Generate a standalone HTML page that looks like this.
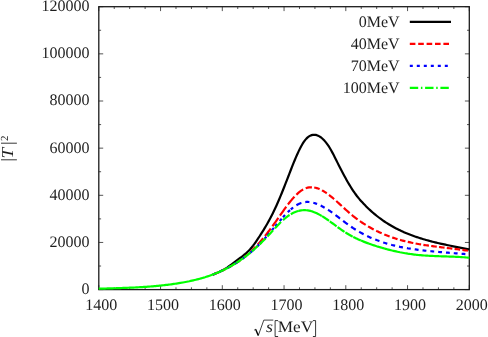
<!DOCTYPE html>
<html><head><meta charset="utf-8"><title>plot</title>
<style>html,body{margin:0;padding:0;background:#fff;}body{width:488px;height:337px;overflow:hidden;font-family:"Liberation Serif",serif;}</style>
</head><body>
<svg width="488" height="337" viewBox="0 0 488 337" style="display:block">
<rect width="488" height="337" fill="#fff"/>
<g fill="none" stroke="#1c1c1c">
<rect x="98.8" y="6.7" width="370.50" height="282.90" stroke-width="1.3"/>
<path d="M98.80,289.6 v-4.4 M98.80,6.7 v4.4 M114.24,289.6 v-2.3 M114.24,6.7 v2.3 M129.68,289.6 v-2.3 M129.68,6.7 v2.3 M145.11,289.6 v-2.3 M145.11,6.7 v2.3 M160.55,289.6 v-4.4 M160.55,6.7 v4.4 M175.99,289.6 v-2.3 M175.99,6.7 v2.3 M191.43,289.6 v-2.3 M191.43,6.7 v2.3 M206.86,289.6 v-2.3 M206.86,6.7 v2.3 M222.30,289.6 v-4.4 M222.30,6.7 v4.4 M237.74,289.6 v-2.3 M237.74,6.7 v2.3 M253.18,289.6 v-2.3 M253.18,6.7 v2.3 M268.61,289.6 v-2.3 M268.61,6.7 v2.3 M284.05,289.6 v-4.4 M284.05,6.7 v4.4 M299.49,289.6 v-2.3 M299.49,6.7 v2.3 M314.93,289.6 v-2.3 M314.93,6.7 v2.3 M330.36,289.6 v-2.3 M330.36,6.7 v2.3 M345.80,289.6 v-4.4 M345.80,6.7 v4.4 M361.24,289.6 v-2.3 M361.24,6.7 v2.3 M376.68,289.6 v-2.3 M376.68,6.7 v2.3 M392.11,289.6 v-2.3 M392.11,6.7 v2.3 M407.55,289.6 v-4.4 M407.55,6.7 v4.4 M422.99,289.6 v-2.3 M422.99,6.7 v2.3 M438.43,289.6 v-2.3 M438.43,6.7 v2.3 M453.86,289.6 v-2.3 M453.86,6.7 v2.3 M469.30,289.6 v-4.4 M469.30,6.7 v4.4 M98.8,289.60 h4.4 M469.3,289.60 h-4.4 M98.8,266.03 h2.3 M469.3,266.03 h-2.3 M98.8,242.45 h4.4 M469.3,242.45 h-4.4 M98.8,218.88 h2.3 M469.3,218.88 h-2.3 M98.8,195.30 h4.4 M469.3,195.30 h-4.4 M98.8,171.73 h2.3 M469.3,171.73 h-2.3 M98.8,148.15 h4.4 M469.3,148.15 h-4.4 M98.8,124.58 h2.3 M469.3,124.58 h-2.3 M98.8,101.00 h4.4 M469.3,101.00 h-4.4 M98.8,77.42 h2.3 M469.3,77.42 h-2.3 M98.8,53.85 h4.4 M469.3,53.85 h-4.4 M98.8,30.27 h2.3 M469.3,30.27 h-2.3 M98.8,6.70 h4.4 M469.3,6.70 h-4.4" stroke-width="0.75"/>
</g>
<g fill="none" stroke-width="2.2" stroke-linejoin="round">
<path d="M212.8,274.68 214.1,274.17 215.4,273.64 216.7,273.08 218.0,272.51 219.3,271.90 220.6,271.27 221.9,270.60 223.2,269.90 224.5,269.16 225.8,268.38 227.1,267.56 228.4,266.68 229.7,265.77 231.0,264.83 232.3,263.86 233.6,262.88 234.9,261.89 236.2,260.91 237.5,259.94 238.8,258.97 240.1,258.00 241.4,257.02 242.7,256.00 244.0,254.96 245.3,253.86 246.6,252.70 247.9,251.47 249.2,250.15 250.5,248.75 251.8,247.23 253.1,245.60 254.4,243.87 255.7,242.05 257.0,240.16 258.3,238.22 259.6,236.24 260.9,234.22 262.2,232.16 263.5,230.05 264.8,227.90 266.1,225.70 267.4,223.46 268.7,221.16 270.0,218.79 271.3,216.33 272.6,213.76 273.9,211.08 275.2,208.31 276.5,205.44 277.8,202.49 279.1,199.46 280.4,196.36 281.7,193.21 283.0,189.99 284.3,186.73 285.6,183.43 286.9,180.10 288.2,176.74 289.5,173.38 290.8,170.02 292.1,166.70 293.4,163.44 294.7,160.25 296.0,157.16 297.3,154.19 298.6,151.36 299.9,148.70 301.2,146.22 302.5,143.95 303.8,141.91 305.1,140.12 306.4,138.60 307.7,137.36 309.0,136.39 310.3,135.65 311.6,135.14 312.9,134.84 314.2,134.75 315.5,134.86 316.8,135.17 318.1,135.68 319.4,136.36 320.7,137.23 322.0,138.26 323.3,139.47 324.6,140.84 325.9,142.38 327.2,144.08 328.5,145.96 329.8,148.01 331.1,150.23 332.4,152.61 333.7,155.10 335.0,157.68 336.3,160.28 337.6,162.87 338.9,165.44 340.2,167.99 341.5,170.51 342.8,173.00 344.1,175.44 345.4,177.84 346.7,180.18 348.0,182.45 349.3,184.66 350.6,186.80 351.9,188.86 353.2,190.83 354.5,192.71 355.8,194.50 357.1,196.21 358.4,197.84 359.7,199.41 361.0,200.91 362.3,202.35 363.6,203.74 364.9,205.09 366.2,206.41 367.5,207.68 368.8,208.93 370.1,210.14 371.4,211.32 372.7,212.47 374.0,213.58 375.3,214.67 376.6,215.73 377.9,216.75 379.2,217.75 380.5,218.72 381.8,219.66 383.1,220.58 384.4,221.47 385.7,222.34 387.0,223.18 388.3,223.99 389.6,224.79 390.9,225.56 392.2,226.30 393.5,227.03 394.8,227.74 396.1,228.42 397.4,229.09 398.7,229.73 400.0,230.36 401.3,230.97 402.6,231.56 403.9,232.14 405.2,232.70 406.5,233.24 407.8,233.77 409.1,234.29 410.4,234.79 411.7,235.28 413.0,235.76 414.3,236.22 415.6,236.68 416.9,237.12 418.2,237.55 419.5,237.98 420.8,238.39 422.1,238.79 423.4,239.18 424.7,239.56 426.0,239.94 427.3,240.30 428.6,240.66 429.9,241.01 431.2,241.35 432.5,241.69 433.8,242.01 435.1,242.33 436.4,242.65 437.7,242.96 439.0,243.26 440.3,243.56 441.6,243.85 442.9,244.14 444.2,244.42 445.5,244.70 446.8,244.97 448.1,245.25 449.4,245.52 450.7,245.78 452.0,246.05 453.3,246.31 454.6,246.57 455.9,246.83 457.2,247.08 458.5,247.34 459.8,247.60 461.1,247.85 462.4,248.11 463.7,248.37 465.0,248.62 466.3,248.88 467.6,249.14 468.9,249.41 469.3,249.49" stroke="#000"/>
<path d="M212.8,274.53 214.1,274.04 215.4,273.53 216.7,273.00 218.0,272.46 219.3,271.90 220.6,271.33M220.6,271.33 221.9,270.74 223.2,270.13 224.5,269.50 225.8,268.86 227.1,268.19 228.4,267.51M228.4,267.51 229.7,266.81 231.0,266.09 232.3,265.34 233.6,264.57 234.9,263.78 236.2,262.96M236.2,262.96 237.5,262.12 238.8,261.24 240.1,260.34 241.4,259.40 242.7,258.44 244.0,257.43M244.0,257.43 245.3,256.40 246.6,255.33 247.9,254.22 249.2,253.07 250.5,251.89 251.8,250.66M251.8,250.66 253.1,249.39 254.4,248.08 255.7,246.74 257.0,245.35 258.3,243.92 259.6,242.46M259.6,242.46 260.9,240.96 262.2,239.42 263.5,237.86 264.8,236.25 266.1,234.62 267.4,232.96M267.4,232.96 268.7,231.26 270.0,229.54 271.3,227.79 272.6,226.02 273.9,224.21 275.2,222.39M275.2,222.39 276.5,220.54 277.8,218.69 279.1,216.82 280.4,214.96 281.7,213.11 283.0,211.27M283.0,211.27 284.3,209.45 285.6,207.66 286.9,205.90 288.2,204.18 289.5,202.51 290.8,200.90M290.8,200.90 292.1,199.34 293.4,197.85 294.7,196.43 296.0,195.09 297.3,193.84 298.6,192.68M298.6,192.68 299.9,191.62 301.2,190.67 302.5,189.82 303.8,189.10 305.1,188.50 306.4,188.03M306.4,188.03 307.7,187.67 309.0,187.43 310.3,187.30 311.6,187.27 312.9,187.34 314.2,187.52M314.2,187.52 315.5,187.78 316.8,188.13 318.1,188.57 319.4,189.08 320.7,189.68 322.0,190.34M322.0,190.34 323.3,191.06 324.6,191.85 325.9,192.70 327.2,193.60 328.5,194.55 329.8,195.54M329.8,195.54 331.1,196.58 332.4,197.65 333.7,198.75 335.0,199.88 336.3,201.03 337.6,202.20M337.6,202.20 338.9,203.38 340.2,204.57 341.5,205.77 342.8,206.97 344.1,208.16 345.4,209.35M345.4,209.35 346.7,210.53 348.0,211.69 349.3,212.82 350.6,213.94 351.9,215.02 353.2,216.08M353.2,216.08 354.5,217.10 355.8,218.10 357.1,219.08 358.4,220.02 359.7,220.95 361.0,221.84M361.0,221.84 362.3,222.72 363.6,223.57 364.9,224.40 366.2,225.21 367.5,226.00 368.8,226.77M368.8,226.77 370.1,227.51 371.4,228.24 372.7,228.95 374.0,229.64 375.3,230.31 376.6,230.96M376.6,230.96 377.9,231.59 379.2,232.20 380.5,232.80 381.8,233.38 383.1,233.94 384.4,234.49M384.4,234.49 385.7,235.02 387.0,235.53 388.3,236.03 389.6,236.51 390.9,236.98 392.2,237.43M392.2,237.43 393.5,237.87 394.8,238.30 396.1,238.71 397.4,239.11 398.7,239.50 400.0,239.87M400.0,239.87 401.3,240.23 402.6,240.58 403.9,240.92 405.2,241.25 406.5,241.57 407.8,241.87M407.8,241.87 409.1,242.17 410.4,242.45 411.7,242.73 413.0,243.00 414.3,243.26 415.6,243.51M415.6,243.51 416.9,243.75 418.2,243.99 419.5,244.22 420.8,244.44 422.1,244.65 423.4,244.86M423.4,244.86 424.7,245.07 426.0,245.26 427.3,245.45 428.6,245.64 429.9,245.82 431.2,246.00M431.2,246.00 432.5,246.18 433.8,246.35 435.1,246.51 436.4,246.68 437.7,246.84 439.0,247.00M439.0,247.00 440.3,247.16 441.6,247.32 442.9,247.47 444.2,247.63 445.5,247.78 446.8,247.94M446.8,247.94 448.1,248.09 449.4,248.25 450.7,248.40 452.0,248.56 453.3,248.72 454.6,248.88M454.6,248.88 455.9,249.05 457.2,249.21 458.5,249.38 459.8,249.55 461.1,249.73 462.4,249.91M462.4,249.91 463.8,250.11 465.2,250.31 466.5,250.52 467.9,250.73 469.3,250.95" stroke="#f00" stroke-dasharray="5.6 2.8"/>
<path d="M212.8,274.47 214.1,273.97 215.4,273.46 216.7,272.93 218.0,272.39 219.3,271.83 220.6,271.25M220.6,271.25 221.9,270.66 223.2,270.05 224.5,269.42 225.8,268.78 227.1,268.11 228.4,267.43M228.4,267.43 229.7,266.73 231.0,266.01 232.3,265.27 233.6,264.51 234.9,263.73 236.2,262.93M236.2,262.93 237.5,262.11 238.8,261.26 240.1,260.38 241.4,259.49 242.7,258.57 244.0,257.62M244.0,257.62 245.3,256.65 246.6,255.65 247.9,254.62 249.2,253.56 250.5,252.48 251.8,251.37M251.8,251.37 253.1,250.22 254.4,249.05 255.7,247.85 257.0,246.61 258.3,245.34 259.6,244.04M259.6,244.04 260.9,242.70 262.2,241.34 263.5,239.93 264.8,238.50 266.1,237.03 267.4,235.54M267.4,235.54 268.7,234.03 270.0,232.50 271.3,230.96 272.6,229.41 273.9,227.86 275.2,226.31M275.2,226.31 276.5,224.77 277.8,223.23 279.1,221.70 280.4,220.20 281.7,218.71 283.0,217.25M283.0,217.25 284.3,215.83 285.6,214.44 286.9,213.10 288.2,211.81 289.5,210.58 290.8,209.41M290.8,209.41 292.1,208.30 293.4,207.28 294.7,206.33 296.0,205.46 297.3,204.69 298.6,204.01M298.6,204.01 299.9,203.44 301.2,202.96 302.5,202.57 303.8,202.28 305.1,202.08 306.4,201.97M306.4,201.97 307.7,201.95 309.0,202.00 310.3,202.14 311.6,202.36 312.9,202.64 314.2,202.99M314.2,202.99 315.5,203.41 316.8,203.88 318.1,204.40 319.4,204.98 320.7,205.59 322.0,206.25M322.0,206.25 323.3,206.94 324.6,207.67 325.9,208.44 327.2,209.24 328.5,210.08 329.8,210.95M329.8,210.95 331.1,211.84 332.4,212.77 333.7,213.72 335.0,214.69 336.3,215.68 337.6,216.68M337.6,216.68 338.9,217.69 340.2,218.70 341.5,219.71 342.8,220.71 344.1,221.70 345.4,222.68M345.4,222.68 346.7,223.63 348.0,224.57 349.3,225.49 350.6,226.38 351.9,227.26 353.2,228.12M353.2,228.12 354.5,228.95 355.8,229.77 357.1,230.56 358.4,231.33 359.7,232.09 361.0,232.82M361.0,232.82 362.3,233.53 363.6,234.22 364.9,234.89 366.2,235.54 367.5,236.17 368.8,236.78M368.8,236.78 370.1,237.38 371.4,237.95 372.7,238.51 374.0,239.06 375.3,239.58 376.6,240.09M376.6,240.09 377.9,240.58 379.2,241.06 380.5,241.52 381.8,241.97 383.1,242.40 384.4,242.82M384.4,242.82 385.7,243.22 387.0,243.61 388.3,243.99 389.6,244.35 390.9,244.70 392.2,245.04M392.2,245.04 393.5,245.37 394.8,245.68 396.1,245.99 397.4,246.28 398.7,246.57 400.0,246.84M400.0,246.84 401.3,247.10 402.6,247.36 403.9,247.60 405.2,247.84 406.5,248.07 407.8,248.29M407.8,248.29 409.1,248.50 410.4,248.70 411.7,248.90 413.0,249.09 414.3,249.28 415.6,249.46M415.6,249.46 416.9,249.64 418.2,249.81 419.5,249.97 420.8,250.13 422.1,250.29 423.4,250.44M423.4,250.44 424.7,250.58 426.0,250.73 427.3,250.87 428.6,251.00 429.9,251.13 431.2,251.26M431.2,251.26 432.5,251.39 433.8,251.51 435.1,251.63 436.4,251.75 437.7,251.87 439.0,251.98M439.0,251.98 440.3,252.09 441.6,252.20 442.9,252.31 444.2,252.41 445.5,252.52 446.8,252.62M446.8,252.62 448.1,252.72 449.4,252.82 450.7,252.93 452.0,253.03 453.3,253.13 454.6,253.23M454.6,253.23 455.9,253.33 457.2,253.43 458.5,253.53 459.8,253.63 461.1,253.74 462.4,253.84M462.4,253.84 463.8,253.95 465.2,254.07 466.5,254.18 467.9,254.30 469.3,254.42" stroke="#00f" stroke-dasharray="3 4"/>
<path d="M98.8,288.71 100.0,288.67 101.2,288.63 102.4,288.60 103.6,288.57M103.6,288.57 104.9,288.53 106.2,288.49 107.5,288.45 108.8,288.42 110.1,288.38 111.4,288.34M111.4,288.34 112.7,288.30 114.0,288.27 115.3,288.23 116.6,288.19 117.9,288.14 119.2,288.10M119.2,288.10 120.5,288.06 121.8,288.01 123.1,287.97 124.4,287.92 125.7,287.87 127.0,287.82M127.0,287.82 128.3,287.77 129.6,287.72 130.9,287.66 132.2,287.60 133.5,287.54 134.8,287.48M134.8,287.48 136.1,287.41 137.4,287.34 138.7,287.27 140.0,287.20 141.3,287.12 142.6,287.04M142.6,287.04 143.9,286.96 145.2,286.87 146.5,286.78 147.8,286.69 149.1,286.60 150.4,286.50M150.4,286.50 151.7,286.39 153.0,286.28 154.3,286.17 155.6,286.06 156.9,285.94 158.2,285.81M158.2,285.81 159.5,285.68 160.8,285.55 162.1,285.41 163.4,285.27 164.7,285.12 166.0,284.96M166.0,284.96 167.3,284.81 168.6,284.64 169.9,284.47 171.2,284.30 172.5,284.12 173.8,283.93M173.8,283.93 175.1,283.74 176.4,283.54 177.7,283.34 179.0,283.13 180.3,282.91 181.6,282.69M181.6,282.69 182.9,282.46 184.2,282.22 185.5,281.98 186.8,281.73 188.1,281.47 189.4,281.21M189.4,281.21 190.7,280.93 192.0,280.65 193.3,280.35 194.6,280.05 195.9,279.74 197.2,279.41M197.2,279.41 198.5,279.08 199.8,278.73 201.1,278.38 202.4,278.01 203.7,277.62 205.0,277.23M205.0,277.23 206.3,276.82 207.6,276.40 208.9,275.97 210.2,275.52 211.5,275.05 212.8,274.57M212.8,274.57 214.1,274.08 215.4,273.57 216.7,273.04 218.0,272.50 219.3,271.94 220.6,271.36M220.6,271.36 221.9,270.77 223.2,270.15 224.5,269.52 225.8,268.87 227.1,268.20 228.4,267.51M228.4,267.51 229.7,266.80 231.0,266.08 232.3,265.33 233.6,264.55 234.9,263.76 236.2,262.95M236.2,262.95 237.5,262.11 238.8,261.25 240.1,260.37 241.4,259.46 242.7,258.53 244.0,257.58M244.0,257.58 245.3,256.61 246.6,255.61 247.9,254.59 249.2,253.54 250.5,252.47 251.8,251.38M251.8,251.38 253.1,250.27 254.4,249.13 255.7,247.97 257.0,246.79 258.3,245.58 259.6,244.35M259.6,244.35 260.9,243.10 262.2,241.82 263.5,240.53 264.8,239.20 266.1,237.86 267.4,236.49M267.4,236.49 268.7,235.10 270.0,233.69 271.3,232.28 272.6,230.85 273.9,229.43 275.2,228.02M275.2,228.02 276.5,226.63 277.8,225.25 279.1,223.91 280.4,222.60 281.7,221.34 283.0,220.13M283.0,220.13 284.3,218.97 285.6,217.87 286.9,216.85 288.2,215.90 289.5,215.02 290.8,214.21M290.8,214.21 292.1,213.48 293.4,212.82 294.7,212.23 296.0,211.72 297.3,211.28 298.6,210.91M298.6,210.91 299.9,210.62 301.2,210.39 302.5,210.25 303.8,210.17 305.1,210.17 306.4,210.24M306.4,210.24 307.7,210.39 309.0,210.60 310.3,210.89 311.6,211.25 312.9,211.67 314.2,212.16M314.2,212.16 315.5,212.70 316.8,213.29 318.1,213.94 319.4,214.63 320.7,215.36 322.0,216.13M322.0,216.13 323.3,216.93 324.6,217.77 325.9,218.64 327.2,219.52 328.5,220.43 329.8,221.36M329.8,221.36 331.1,222.30 332.4,223.25 333.7,224.20 335.0,225.16 336.3,226.11 337.6,227.06M337.6,227.06 338.9,228.00 340.2,228.92 341.5,229.83 342.8,230.72 344.1,231.59 345.4,232.43M345.4,232.43 346.7,233.24 348.0,234.02 349.3,234.78 350.6,235.51 351.9,236.22 353.2,236.90M353.2,236.90 354.5,237.56 355.8,238.20 357.1,238.82 358.4,239.42 359.7,240.00 361.0,240.56M361.0,240.56 362.3,241.10 363.6,241.63 364.9,242.14 366.2,242.64 367.5,243.12 368.8,243.59M368.8,243.59 370.1,244.05 371.4,244.50 372.7,244.94 374.0,245.37 375.3,245.79 376.6,246.21M376.6,246.21 377.9,246.61 379.2,247.01 380.5,247.40 381.8,247.78 383.1,248.16 384.4,248.52M384.4,248.52 385.7,248.88 387.0,249.23 388.3,249.57 389.6,249.90 390.9,250.22 392.2,250.54M392.2,250.54 393.5,250.85 394.8,251.14 396.1,251.43 397.4,251.71 398.7,251.99 400.0,252.25M400.0,252.25 401.3,252.50 402.6,252.75 403.9,252.98 405.2,253.21 406.5,253.43 407.8,253.64M407.8,253.64 409.1,253.84 410.4,254.03 411.7,254.21 413.0,254.38 414.3,254.55 415.6,254.70M415.6,254.70 416.9,254.84 418.2,254.98 419.5,255.10 420.8,255.22 422.1,255.33 423.4,255.43M423.4,255.43 424.7,255.52 426.0,255.61 427.3,255.69 428.6,255.77 429.9,255.84 431.2,255.90M431.2,255.90 432.5,255.96 433.8,256.02 435.1,256.07 436.4,256.12 437.7,256.17 439.0,256.22M439.0,256.22 440.3,256.26 441.6,256.30 442.9,256.34 444.2,256.38 445.5,256.42 446.8,256.47M446.8,256.47 448.1,256.51 449.4,256.55 450.7,256.60 452.0,256.65 453.3,256.70 454.6,256.75M454.6,256.75 455.9,256.81 457.2,256.88 458.5,256.94 459.8,257.02 461.1,257.09 462.4,257.18M462.4,257.18 463.8,257.27 465.2,257.38 466.5,257.49 467.9,257.61 469.3,257.75" stroke="#0f0" stroke-dasharray="8.4 2.7 1.5 2.7"/>
<path d="M409.8,21.95 H451" stroke="#000"/>
<path d="M409.8,43.9 H451" stroke="#f00" stroke-dasharray="5.6 2.8"/>
<path d="M409.8,65.85 H451" stroke="#00f" stroke-dasharray="3 4"/>
<path d="M409.8,87.8 H451" stroke="#0f0" stroke-dasharray="8.4 2.7 1.5 2.7"/>
</g>
<g font-family="&quot;Liberation Serif&quot;, serif" font-size="16" fill="#1e1e1e" opacity="0.999" style="text-rendering:geometricPrecision">
<text x="89.5" y="294.00" text-anchor="end">0</text>
<text x="89.5" y="246.85" text-anchor="end">20000</text>
<text x="89.5" y="199.70" text-anchor="end">40000</text>
<text x="89.5" y="152.55" text-anchor="end">60000</text>
<text x="89.5" y="105.40" text-anchor="end">80000</text>
<text x="89.5" y="58.25" text-anchor="end">100000</text>
<text x="89.5" y="11.10" text-anchor="end">120000</text>
<text x="101.30" y="309.9" text-anchor="middle">1400</text>
<text x="163.05" y="309.9" text-anchor="middle">1500</text>
<text x="224.80" y="309.9" text-anchor="middle">1600</text>
<text x="286.55" y="309.9" text-anchor="middle">1700</text>
<text x="348.30" y="309.9" text-anchor="middle">1800</text>
<text x="410.05" y="309.9" text-anchor="middle">1900</text>
<text x="471.80" y="309.9" text-anchor="middle">2000</text>
<text x="399.6" y="27.45" text-anchor="end">0MeV</text>
<text x="399.6" y="49.45" text-anchor="end">40MeV</text>
<text x="399.6" y="71.45" text-anchor="end">70MeV</text>
<text x="399.6" y="93.45" text-anchor="end">100MeV</text>
<text x="266" y="332.3" font-style="italic" transform="translate(266,0) scale(1.12,1) translate(-266,0)">s</text>
<text transform="translate(277.7,332.3) scale(1.075,1)">MeV</text>
<path d="M278.1,320.6 H275.1 V336.5 H278.1 M312.9,320.6 H315.6 V336.5 H312.9" fill="none" stroke="#000" stroke-width="0.8"/>
<path d="M254.1,330.2 l1.7,-1.0" fill="none" stroke="#000" stroke-width="0.7"/>
<path d="M255.6,329.2 l2.7,6.2" fill="none" stroke="#000" stroke-width="1.4"/>
<path d="M258.2,335.8 L263.8,320.1 H273.3" fill="none" stroke="#000" stroke-width="0.75"/>
<path d="M1,159.8 H16.9 M1,143.2 H16.9" fill="none" stroke="#000" stroke-width="0.8"/>
<text transform="translate(12.9,158.6) rotate(-90) scale(1.2,1.04)" font-style="italic">T</text>
<text transform="translate(7.6,140.9) rotate(-90)" font-size="10.8">2</text>
</g>
</svg>
</body></html>
